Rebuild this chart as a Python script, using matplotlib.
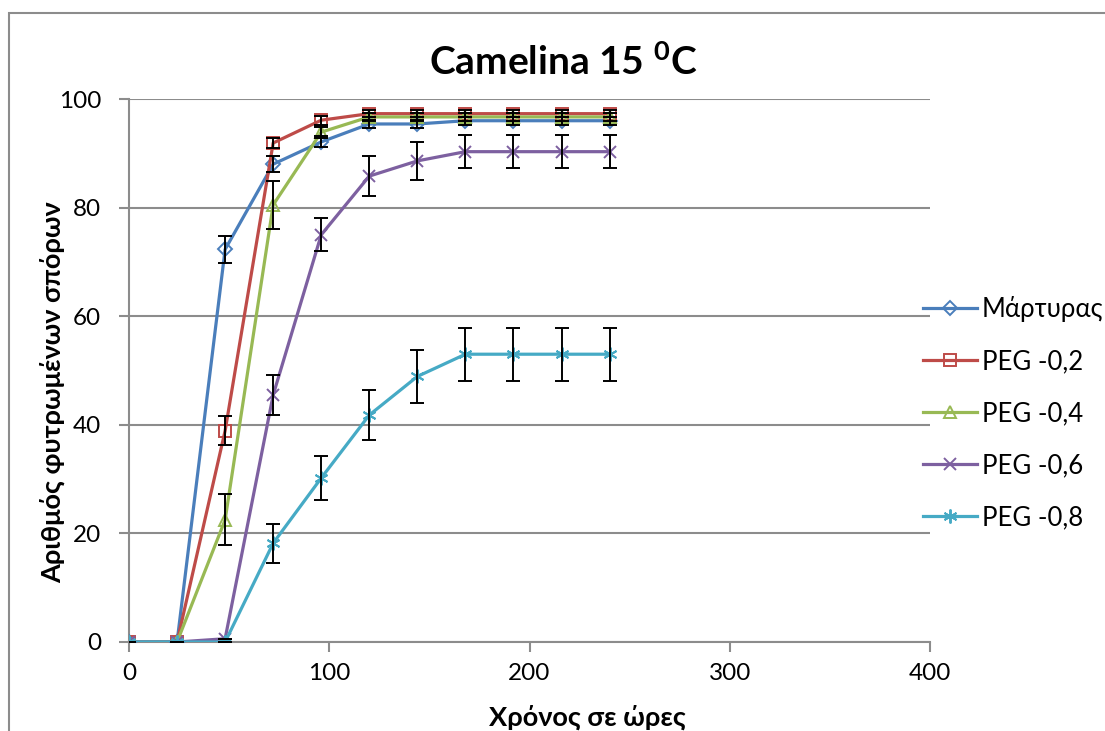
import numpy as np
import matplotlib
matplotlib.use("Agg")
import matplotlib.pyplot as plt
from matplotlib.patches import Rectangle

plt.rcParams['font.family'] = ['Lato', 'Noto Sans', 'DejaVu Sans']
plt.rcParams['mathtext.fontset'] = 'custom'
plt.rcParams['mathtext.rm'] = 'Lato'
plt.rcParams['mathtext.bf'] = 'Lato:bold'

# hours after sowing
hours = [0, 24, 48, 72, 96, 120, 144, 168, 192, 216, 240]

labels = ['Μάρτυρας', 'PEG -0,2', 'PEG -0,4', 'PEG -0,6', 'PEG -0,8']

control = [0, 0, 72.3, 88.0, 92.1, 95.4, 95.4, 96.0, 96.0, 96.0, 96.0]
peg02 = [0, 0, 38.9, 91.9, 96.1, 97.3, 97.3, 97.3, 97.3, 97.3, 97.3]
peg04 = [0, 0, 22.5, 80.5, 93.9, 96.7, 96.7, 96.7, 96.7, 96.7, 96.7]
peg06 = [0, 0, 0.6, 45.5, 75.0, 85.8, 88.6, 90.3, 90.3, 90.3, 90.3]
peg08 = [0, 0, 0, 18.2, 30.2, 41.8, 48.9, 53.0, 53.0, 53.0, 53.0]

err_control = [0, 0, 2.5, 1.5, 1.0, 0.8, 0.8, 0.7, 0.7, 0.7, 0.7]
err_peg02 = [0, 0, 2.7, 1.0, 0.8, 0.7, 0.7, 0.7, 0.7, 0.7, 0.7]
err_peg04 = [0, 0, 4.7, 4.4, 1.0, 0.7, 0.7, 0.7, 0.7, 0.7, 0.7]
err_peg06 = [0, 0, 0, 3.7, 3.0, 3.7, 3.5, 3.0, 3.0, 3.0, 3.0]
err_peg08 = [0, 0, 0, 3.6, 4.0, 4.6, 4.8, 4.9, 4.9, 4.9, 4.9]

series = [control, peg02, peg04, peg06, peg08]
errors = [err_control, err_peg02, err_peg04, err_peg06, err_peg08]
colors = ['#4a7ebb', '#be4b48', '#98b954', '#7d60a0', '#46aac5']
markers = ['D', 's', '^', 'x', (6, 2, 0)]
msizes = [7, 9, 9, 9, 10]

W, H = 1105, 731
fig = plt.figure(figsize=(W / 100, H / 100), dpi=100)
ax = fig.add_axes([129 / W, 1 - 642 / H, (930 - 129) / W, (642 - 99) / H])

for y, c, m, ms, lab in zip(series, colors, markers, msizes, labels):
    ax.plot(hours, y, color=c, lw=2.3, marker=m, ms=ms, mfc='none',
            mec=c, mew=1.4, label=lab, zorder=3)

for y, e in zip(series, errors):
    ax.errorbar(hours, y, yerr=e, fmt='none', ecolor='black', elinewidth=1.4,
                capsize=5, capthick=1.4, zorder=4)

ax.set_xlim(0, 400)
ax.set_ylim(0, 100)
ax.set_xticks([0, 100, 200, 300, 400])
ax.set_yticks([0, 20, 40, 60, 80, 100])
ax.yaxis.grid(True, color='#8c8c8c', lw=1.5)
ax.set_axisbelow(True)
for s in ['top', 'right']:
    ax.spines[s].set_visible(False)
for s in ['left', 'bottom']:
    ax.spines[s].set_color('#8c8c8c')
    ax.spines[s].set_linewidth(1.5)
ax.tick_params(axis='both', colors='#8c8c8c', labelcolor='black', width=1.5,
               length=7, labelsize=17.5)
ax.tick_params(axis='y', pad=13)
ax.tick_params(axis='x', pad=8)

fig.text(587 / W, 1 - 717 / H, 'Χρόνος σε ώρες', ha='center', va='center',
         fontsize=19.5, fontweight='bold')
fig.text(52 / W, 1 - 392 / H, 'Αριθμός φυτρωμένων σπόρων', ha='center',
         va='center', rotation=90, fontsize=19.5, fontweight='bold')
fig.text(563 / W, 1 - 62 / H, r'Camelina 15 $\mathbf{^{0}}$C', ha='center',
         va='center', fontsize=28, fontweight='bold')

ax.legend(loc='center left', bbox_to_anchor=(923 / W, 1 - 413 / H),
          bbox_transform=fig.transFigure, frameon=False, fontsize=18.5,
          borderpad=0, borderaxespad=0, handlelength=2.1, handletextpad=0.2,
          labelspacing=1.05)

# chart border, partially cut by the image edge
fig.patches.append(Rectangle((9 / W, -0.1), 1.2, 1 - 13 / H + 0.1,
                             transform=fig.transFigure, fill=False,
                             ec='#8c8c8c', lw=1.5))

fig.savefig('out.png', dpi=100)
